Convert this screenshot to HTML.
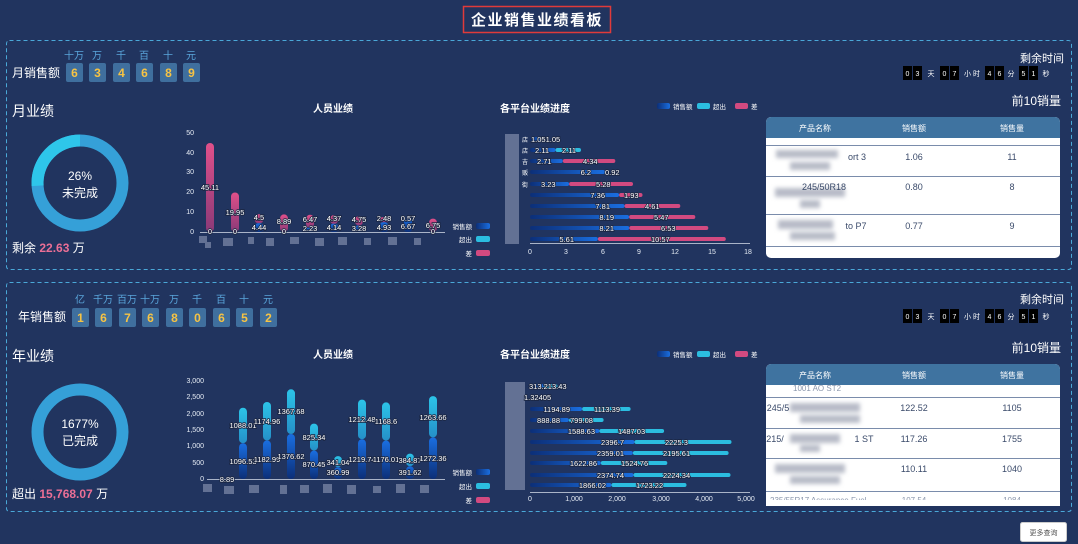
<!DOCTYPE html>
<html><head><meta charset="utf-8"><style>
html,body{margin:0;padding:0;background:#21345f;}
svg{display:block;font-family:"Liberation Sans","Noto Sans CJK SC",sans-serif;}
.l{font-size:7.5px;fill:#fff;stroke:#1a2540;stroke-width:1.6px;paint-order:stroke;}
.ax{font-size:7px;fill:#e6ecf5;}
.u{font-size:10px;fill:#5aa6dc;text-anchor:middle;}
.dg{font-size:12px;font-weight:bold;fill:#f6c344;text-anchor:middle;}
.cd{font-size:7px;fill:#fff;text-anchor:middle;}
.td{font-size:9px;fill:#3a4a6a;text-anchor:middle;}
.th{font-size:8px;fill:#fff;text-anchor:middle;}
</style></head><body>
<svg width="1078" height="544" viewBox="0 0 1078 544">
<defs>
<linearGradient id="gb" x1="0" x2="1"><stop offset="0" stop-color="#0c2f78"/><stop offset="1" stop-color="#1a6ee0"/></linearGradient>
<linearGradient id="gbv" x1="0" y1="1" x2="0" y2="0"><stop offset="0" stop-color="#0c2f78"/><stop offset="1" stop-color="#1a6ee0"/></linearGradient>
<linearGradient id="gc" x1="0" y1="1" x2="0" y2="0"><stop offset="0" stop-color="#2590c8"/><stop offset="1" stop-color="#2cc4e8"/></linearGradient>
<linearGradient id="gp" x1="0" y1="1" x2="0" y2="0"><stop offset="0" stop-color="#8a3a78"/><stop offset="1" stop-color="#e0508a"/></linearGradient>
<filter id="bl"><feGaussianBlur stdDeviation="2.2"/></filter>
</defs>
<rect width="1078" height="544" fill="#21345f"/>
<!-- title -->
<rect x="463.5" y="6.5" width="147" height="26" fill="none" stroke="#e03a3a" stroke-width="1.5"/>
<text x="537" y="25" font-size="15" font-weight="bold" fill="#fff" text-anchor="middle" letter-spacing="1.5">企业销售业绩看板</text>
<!-- panels -->
<rect x="6.5" y="40.5" width="1065" height="229" rx="3" fill="none" stroke="#4aa8d8" stroke-dasharray="4,3"/>
<rect x="6.5" y="282.5" width="1065" height="229" rx="3" fill="none" stroke="#4aa8d8" stroke-dasharray="4,3"/>

<!-- ===== TOP PANEL ===== -->
<text x="12" y="77" font-size="12" fill="#fff">月销售额</text>
<g>
<text class="u" x="74" y="59">十万</text><text class="u" x="97" y="59">万</text><text class="u" x="121" y="59">千</text><text class="u" x="144" y="59">百</text><text class="u" x="168" y="59">十</text><text class="u" x="191" y="59">元</text>
<rect x="66" y="63" width="17" height="19" rx="2" fill="#3f6f9e"/><rect x="89" y="63" width="17" height="19" rx="2" fill="#3f6f9e"/><rect x="113" y="63" width="17" height="19" rx="2" fill="#3f6f9e"/><rect x="136" y="63" width="17" height="19" rx="2" fill="#3f6f9e"/><rect x="160" y="63" width="17" height="19" rx="2" fill="#3f6f9e"/><rect x="183" y="63" width="17" height="19" rx="2" fill="#3f6f9e"/>
<text class="dg" x="74.5" y="77">6</text><text class="dg" x="97.5" y="77">3</text><text class="dg" x="121.5" y="77">4</text><text class="dg" x="144.5" y="77">6</text><text class="dg" x="168.5" y="77">8</text><text class="dg" x="191.5" y="77">9</text>
</g>
<text x="1064" y="62" font-size="11" fill="#fff" text-anchor="end">剩余时间</text>
<g id="cd1">
<rect x="903" y="66" width="9" height="14" fill="#000"/><rect x="913" y="66" width="9" height="14" fill="#000"/>
<text class="cd" x="907.5" y="76">0</text><text class="cd" x="917.5" y="76">3</text><text class="cd" x="931" y="76">天</text>
<rect x="940" y="66" width="9" height="14" fill="#000"/><rect x="950" y="66" width="9" height="14" fill="#000"/>
<text class="cd" x="944.5" y="76">0</text><text class="cd" x="954.5" y="76">7</text><text class="cd" x="972" y="76">小 时</text>
<rect x="985" y="66" width="9" height="14" fill="#000"/><rect x="995" y="66" width="9" height="14" fill="#000"/>
<text class="cd" x="989.5" y="76">4</text><text class="cd" x="999.5" y="76">6</text><text class="cd" x="1011" y="76">分</text>
<rect x="1019" y="66" width="9" height="14" fill="#000"/><rect x="1029" y="66" width="9" height="14" fill="#000"/>
<text class="cd" x="1023.5" y="76">5</text><text class="cd" x="1033.5" y="76">1</text><text class="cd" x="1046" y="76">秒</text>
</g>

<text x="12" y="116" font-size="14" fill="#fff">月业绩</text>
<circle cx="80" cy="183" r="42.5" fill="none" stroke="#35a0d8" stroke-width="12"/>
<path d="M80 140.5 A42.5 42.5 0 0 0 37.6 185.7" fill="none" stroke="#2ec6ea" stroke-width="12"/>
<text x="80" y="180" font-size="12" fill="#fff" text-anchor="middle">26%</text>
<text x="80" y="197" font-size="12" fill="#fff" text-anchor="middle">未完成</text>
<text x="12" y="252" font-size="12" fill="#fff">剩余 <tspan fill="#ec6f96" font-weight="bold">22.63</tspan> 万</text>

<!-- monthly person chart -->
<text x="333" y="112" font-size="10" font-weight="bold" fill="#fff" text-anchor="middle">人员业绩</text>
<g class="ax" text-anchor="end">
<text x="194" y="135">50</text><text x="194" y="155">40</text><text x="194" y="174">30</text><text x="194" y="194">20</text><text x="194" y="214">10</text><text x="194" y="234">0</text>
</g>
<line x1="200" y1="232.5" x2="445" y2="232.5" stroke="#aab4c8" stroke-width="1"/>
<g fill="url(#gp)">
<rect x="206" y="143" width="8" height="89" rx="4"/>
<rect x="231" y="192.5" width="8" height="39.5" rx="4"/>
<rect x="255" y="214.3" width="8" height="9" rx="3"/>
<rect x="280" y="214.4" width="8" height="17.6" rx="4"/>
<rect x="306" y="214.8" width="8" height="13" rx="4"/>
<rect x="330" y="215.1" width="8" height="9" rx="4"/>
<rect x="355" y="216.1" width="8" height="9.5" rx="4"/>
<rect x="380" y="217.3" width="8" height="5" rx="2"/>
<rect x="429" y="218.6" width="8" height="13.4" rx="4"/>
</g>
<g fill="url(#gbv)">
<rect x="255" y="223.2" width="8" height="8.8" rx="3"/>
<rect x="306" y="227.6" width="8" height="4.4" rx="2"/>
<rect x="330" y="223.8" width="8" height="8.2" rx="3"/>
<rect x="355" y="225.5" width="8" height="6.5" rx="3"/>
<rect x="380" y="222.2" width="8" height="9.8" rx="3"/>
<rect x="404" y="218.8" width="8" height="13.2" rx="3"/>
</g>
<g class="l" text-anchor="middle">
<text x="210" y="190">45.11</text><text x="210" y="234">0</text>
<text x="235" y="215">19.95</text><text x="235" y="234">0</text>
<text x="259" y="220">4.5</text><text x="259" y="230">4.44</text>
<text x="284" y="224">8.89</text><text x="284" y="234">0</text>
<text x="310" y="222">6.47</text><text x="310" y="231">2.23</text>
<text x="334" y="221">4.37</text><text x="334" y="230">4.14</text>
<text x="359" y="222">4.75</text><text x="359" y="231">3.28</text>
<text x="384" y="221">2.48</text><text x="384" y="230">4.93</text>
<text x="408" y="221">0.57</text><text x="408" y="229">6.67</text>
<text x="433" y="228">6.75</text><text x="433" y="234">0</text>
</g>
<g fill="#7a86a6" opacity="0.75">
<rect x="199" y="236" width="8" height="7"/><rect x="205" y="242" width="6" height="6"/><rect x="223" y="238" width="10" height="8"/><rect x="248" y="237" width="6" height="7"/><rect x="266" y="238" width="8" height="8"/><rect x="290" y="237" width="9" height="7"/><rect x="315" y="238" width="9" height="8"/><rect x="338" y="237" width="9" height="8"/><rect x="364" y="238" width="7" height="7"/><rect x="388" y="237" width="9" height="8"/><rect x="414" y="238" width="7" height="7"/>
</g>
<g font-size="6.5" fill="#fff" text-anchor="end">
<text x="472" y="229">销售额</text><text x="472" y="242">超出</text><text x="472" y="256">差</text>
</g>
<rect x="476" y="223" width="14" height="6" rx="2" fill="url(#gb)"/>
<rect x="476" y="236" width="14" height="6" rx="2" fill="#2bbde0"/>
<rect x="476" y="250" width="14" height="6" rx="2" fill="#d24a80"/>

<!-- monthly platform chart -->
<text x="500" y="112" font-size="10" font-weight="bold" fill="#fff">各平台业绩进度</text>
<rect x="657" y="103" width="13" height="6" rx="2" fill="url(#gb)"/><text x="673" y="109" font-size="6.5" fill="#fff">销售额</text>
<rect x="697" y="103" width="13" height="6" rx="2" fill="#2bbde0"/><text x="713" y="109" font-size="6.5" fill="#fff">超出</text>
<rect x="735" y="103" width="13" height="6" rx="2" fill="#d24a80"/><text x="751" y="109" font-size="6.5" fill="#fff">差</text>
<g fill="#7a86a6" opacity="0.75">
<rect x="505" y="134" width="14" height="110"/>
</g>
<line x1="530" y1="243.5" x2="750" y2="243.5" stroke="#aab4c8"/>
<g class="ax" text-anchor="middle">
<text x="530" y="254">0</text><text x="566" y="254">3</text><text x="603" y="254">6</text><text x="639" y="254">9</text><text x="675" y="254">12</text><text x="712" y="254">15</text><text x="748" y="254">18</text>
</g>
<g>
<rect x="530" y="137" width="12.7" height="4" rx="2" fill="url(#gb)"/>
<rect x="530" y="148" width="25.5" height="4" rx="2" fill="url(#gb)"/><rect x="555.5" y="148" width="25.5" height="4" rx="2" fill="#2bbde0"/>
<rect x="530" y="159" width="32.8" height="4" rx="2" fill="url(#gb)"/><rect x="562.8" y="159" width="52.5" height="4" rx="2" fill="#d24a80"/>
<rect x="530" y="170" width="75" height="4" rx="2" fill="url(#gb)"/>
<rect x="530" y="182" width="39.1" height="4" rx="2" fill="url(#gb)"/><rect x="569.1" y="182" width="63.9" height="4" rx="2" fill="#d24a80"/>
<rect x="530" y="193" width="89.1" height="4" rx="2" fill="url(#gb)"/><rect x="619.1" y="193" width="23.4" height="4" rx="2" fill="#d24a80"/>
<rect x="530" y="204" width="94.5" height="4" rx="2" fill="url(#gb)"/><rect x="624.5" y="204" width="55.8" height="4" rx="2" fill="#d24a80"/>
<rect x="530" y="215" width="99.1" height="4" rx="2" fill="url(#gb)"/><rect x="629.1" y="215" width="66.2" height="4" rx="2" fill="#d24a80"/>
<rect x="530" y="226" width="99.3" height="4" rx="2" fill="url(#gb)"/><rect x="629.3" y="226" width="79" height="4" rx="2" fill="#d24a80"/>
<rect x="530" y="237" width="67.9" height="4" rx="2" fill="url(#gb)"/><rect x="597.9" y="237" width="127.9" height="4" rx="2" fill="#d24a80"/>
</g>
<g class="l">
<text x="531" y="142">1.051.05</text>
<text x="535" y="153">2.11</text><text x="562" y="153">2.11</text>
<text x="537" y="164">2.71</text><text x="583" y="164">4.34</text>
<text x="591" y="175" text-anchor="end">6.2</text><text x="605" y="175">0.92</text>
<text x="541" y="187">3.23</text><text x="596" y="187">5.28</text>
<text x="605" y="198" text-anchor="end">7.36</text><text x="624" y="198">1.93</text>
<text x="610" y="209" text-anchor="end">7.81</text><text x="645" y="209">4.61</text>
<text x="614" y="220" text-anchor="end">8.19</text><text x="654" y="220">5.47</text>
<text x="614" y="231" text-anchor="end">8.21</text><text x="661" y="231">6.53</text>
<text x="574" y="242" text-anchor="end">5.61</text><text x="651" y="242">10.57</text>
</g>
<g font-size="6" fill="#fff" text-anchor="end"><text x="528" y="142">店</text><text x="528" y="153">店</text><text x="528" y="164">吉</text><text x="528" y="175">贩</text><text x="528" y="187">街</text></g>

<!-- top table -->
<text x="1061" y="105" font-size="12" fill="#fff" text-anchor="end">前10销量</text>
<rect x="766" y="117" width="294" height="141" rx="5" fill="#fff"/>
<path d="M766 138 V122 A5 5 0 0 1 771 117 H1055 A5 5 0 0 1 1060 122 V138 Z" fill="#3f73a0"/>
<text class="th" x="815" y="131">产品名称</text><text class="th" x="914" y="131">销售额</text><text class="th" x="1012" y="131">销售量</text>
<g stroke="#7a8cab" stroke-width="1"><line x1="766" y1="145.5" x2="1060" y2="145.5"/><line x1="766" y1="176.5" x2="1060" y2="176.5"/><line x1="766" y1="214.5" x2="1060" y2="214.5"/><line x1="766" y1="246.5" x2="1060" y2="246.5"/></g>
<g filter="url(#bl)" fill="#b8bcc8"><rect x="776" y="150" width="62" height="8"/><rect x="790" y="162" width="40" height="8"/><rect x="775" y="188" width="70" height="9"/><rect x="800" y="200" width="20" height="8"/><rect x="778" y="220" width="55" height="9"/><rect x="790" y="232" width="45" height="8"/></g>
<text class="td" x="857" y="160">ort 3</text><text class="td" x="914" y="160">1.06</text><text class="td" x="1012" y="160">11</text>
<text class="td" x="824" y="190">245/50R18</text><text class="td" x="914" y="190">0.80</text><text class="td" x="1012" y="190">8</text>
<text class="td" x="856" y="229">to P7</text><text class="td" x="914" y="229">0.77</text><text class="td" x="1012" y="229">9</text>

<!-- ===== BOTTOM PANEL ===== -->
<text x="18" y="321" font-size="12" fill="#fff">年销售额</text>
<g>
<text class="u" x="80" y="303">亿</text><text class="u" x="103" y="303">千万</text><text class="u" x="127" y="303">百万</text><text class="u" x="150" y="303">十万</text><text class="u" x="174" y="303">万</text><text class="u" x="197" y="303">千</text><text class="u" x="221" y="303">百</text><text class="u" x="244" y="303">十</text><text class="u" x="268" y="303">元</text>
<rect x="72" y="308" width="17" height="19" rx="2" fill="#3f6f9e"/><rect x="95" y="308" width="17" height="19" rx="2" fill="#3f6f9e"/><rect x="119" y="308" width="17" height="19" rx="2" fill="#3f6f9e"/><rect x="142" y="308" width="17" height="19" rx="2" fill="#3f6f9e"/><rect x="166" y="308" width="17" height="19" rx="2" fill="#3f6f9e"/><rect x="189" y="308" width="17" height="19" rx="2" fill="#3f6f9e"/><rect x="213" y="308" width="17" height="19" rx="2" fill="#3f6f9e"/><rect x="236" y="308" width="17" height="19" rx="2" fill="#3f6f9e"/><rect x="260" y="308" width="17" height="19" rx="2" fill="#3f6f9e"/>
<text class="dg" x="80.5" y="322">1</text><text class="dg" x="103.5" y="322">6</text><text class="dg" x="127.5" y="322">7</text><text class="dg" x="150.5" y="322">6</text><text class="dg" x="174.5" y="322">8</text><text class="dg" x="197.5" y="322">0</text><text class="dg" x="221.5" y="322">6</text><text class="dg" x="244.5" y="322">5</text><text class="dg" x="268.5" y="322">2</text>
</g>
<text x="1064" y="303" font-size="11" fill="#fff" text-anchor="end">剩余时间</text>
<use href="#cd1" transform="translate(0,243)"/>

<text x="12" y="361" font-size="14" fill="#fff">年业绩</text>
<circle cx="80" cy="432" r="42.5" fill="none" stroke="#35a0d8" stroke-width="12"/>
<text x="80" y="428" font-size="12" fill="#fff" text-anchor="middle">1677%</text>
<text x="80" y="445" font-size="12" fill="#fff" text-anchor="middle">已完成</text>
<text x="12" y="498" font-size="12" fill="#fff">超出 <tspan fill="#ec6f96" font-weight="bold">15,768.07</tspan> 万</text>

<!-- yearly person chart -->
<text x="333" y="358" font-size="10" font-weight="bold" fill="#fff" text-anchor="middle">人员业绩</text>
<g class="ax" text-anchor="end">
<text x="204" y="383">3,000</text><text x="204" y="399">2,500</text><text x="204" y="416">2,000</text><text x="204" y="432">1,500</text><text x="204" y="448">1,000</text><text x="204" y="465">500</text><text x="204" y="481">0</text>
</g>
<line x1="207" y1="479.5" x2="445" y2="479.5" stroke="#aab4c8"/>
<g fill="url(#gbv)">
<rect x="239" y="443.2" width="8" height="35.8" rx="4"/>
<rect x="263" y="440.4" width="8" height="38.6" rx="4"/>
<rect x="287" y="434" width="8" height="45" rx="4"/>
<rect x="310" y="450.6" width="8" height="28.4" rx="4"/>
<rect x="334" y="467.2" width="8" height="11.8" rx="4"/>
<rect x="358" y="439.2" width="8" height="39.8" rx="4"/>
<rect x="382" y="440.6" width="8" height="38.4" rx="4"/>
<rect x="406" y="466.2" width="8" height="12.8" rx="4"/>
<rect x="429" y="437.4" width="8" height="41.6" rx="4"/>
</g>
<g fill="url(#gc)">
<rect x="239" y="407.7" width="8" height="35.5" rx="4"/>
<rect x="263" y="402" width="8" height="38.4" rx="4"/>
<rect x="287" y="389.3" width="8" height="44.7" rx="4"/>
<rect x="310" y="423.6" width="8" height="27" rx="4"/>
<rect x="334" y="456.1" width="8" height="11.1" rx="4"/>
<rect x="358" y="399.6" width="8" height="39.6" rx="4"/>
<rect x="382" y="402.4" width="8" height="38.2" rx="4"/>
<rect x="406" y="453.6" width="8" height="12.6" rx="4"/>
<rect x="429" y="396.1" width="8" height="41.3" rx="4"/>
</g>
<g class="l" text-anchor="middle">
<text x="227" y="482">8.89</text>
<text x="243" y="464">1096.53</text><text x="243" y="428">1088.01</text>
<text x="267" y="462">1182.99</text><text x="267" y="424">1174.96</text>
<text x="291" y="459">1376.62</text><text x="291" y="414">1367.68</text>
<text x="314" y="467">870.45</text><text x="314" y="440">825.34</text>
<text x="338" y="475">360.99</text><text x="338" y="465">341.04</text>
<text x="362" y="462">1219.74</text><text x="362" y="422">1212.48</text>
<text x="386" y="462">1176.01</text><text x="386" y="424">1168.6</text>
<text x="410" y="475">391.62</text><text x="410" y="463">384.87</text>
<text x="433" y="461">1272.36</text><text x="433" y="420">1263.66</text>
</g>
<g fill="#7a86a6" opacity="0.75">
<rect x="203" y="484" width="9" height="8"/><rect x="224" y="486" width="10" height="8"/><rect x="249" y="485" width="10" height="8"/><rect x="280" y="485" width="7" height="9"/><rect x="300" y="485" width="9" height="8"/><rect x="323" y="484" width="9" height="9"/><rect x="347" y="485" width="9" height="9"/><rect x="373" y="486" width="8" height="7"/><rect x="396" y="484" width="9" height="9"/><rect x="420" y="485" width="9" height="8"/>
</g>
<g font-size="6.5" fill="#fff" text-anchor="end">
<text x="472" y="475">销售额</text><text x="472" y="489">超出</text><text x="472" y="503">差</text>
</g>
<rect x="476" y="469" width="14" height="6" rx="2" fill="url(#gb)"/>
<rect x="476" y="483" width="14" height="6" rx="2" fill="#2bbde0"/>
<rect x="476" y="497" width="14" height="6" rx="2" fill="#d24a80"/>

<!-- yearly platform chart -->
<text x="500" y="358" font-size="10" font-weight="bold" fill="#fff">各平台业绩进度</text>
<rect x="657" y="351" width="13" height="6" rx="2" fill="url(#gb)"/><text x="673" y="357" font-size="6.5" fill="#fff">销售额</text>
<rect x="697" y="351" width="13" height="6" rx="2" fill="#2bbde0"/><text x="713" y="357" font-size="6.5" fill="#fff">超出</text>
<rect x="735" y="351" width="13" height="6" rx="2" fill="#d24a80"/><text x="751" y="357" font-size="6.5" fill="#fff">差</text>
<g fill="#7a86a6" opacity="0.75"><rect x="505" y="382" width="20" height="108"/></g>
<line x1="530" y1="492.5" x2="750" y2="492.5" stroke="#aab4c8"/>
<g class="ax" text-anchor="middle">
<text x="530" y="501">0</text><text x="574" y="501">1,000</text><text x="617" y="501">2,000</text><text x="661" y="501">3,000</text><text x="704" y="501">4,000</text><text x="746" y="501">5,000</text>
</g>
<g>
<rect x="530" y="384" width="13.7" height="4" rx="2" fill="url(#gb)"/><rect x="543.7" y="384" width="13.7" height="4" rx="2" fill="#2bbde0"/>
<rect x="530" y="407" width="52.1" height="4" rx="2" fill="url(#gb)"/><rect x="582.1" y="407" width="48.5" height="4" rx="2" fill="#2bbde0"/>
<rect x="530" y="418" width="38.8" height="4" rx="2" fill="url(#gb)"/><rect x="568.8" y="418" width="34.8" height="4" rx="2" fill="#2bbde0"/>
<rect x="530" y="429" width="69.3" height="4" rx="2" fill="url(#gb)"/><rect x="599.3" y="429" width="64.8" height="4" rx="2" fill="#2bbde0"/>
<rect x="530" y="440" width="104.5" height="4" rx="2" fill="url(#gb)"/><rect x="634.5" y="440" width="97" height="4" rx="2" fill="#2bbde0"/>
<rect x="530" y="451" width="102.9" height="4" rx="2" fill="url(#gb)"/><rect x="632.9" y="451" width="95.7" height="4" rx="2" fill="#2bbde0"/>
<rect x="530" y="461" width="70.8" height="4" rx="2" fill="url(#gb)"/><rect x="600.8" y="461" width="66.5" height="4" rx="2" fill="#2bbde0"/>
<rect x="530" y="473" width="103.5" height="4" rx="2" fill="url(#gb)"/><rect x="633.5" y="473" width="97" height="4" rx="2" fill="#2bbde0"/>
<rect x="530" y="483" width="81.4" height="4" rx="2" fill="url(#gb)"/><rect x="611.4" y="483" width="75.1" height="4" rx="2" fill="#2bbde0"/>
</g>
<g class="l">
<text x="529" y="389">313.213.43</text>
<text x="524" y="400">1.32405</text>
<text x="570" y="412" text-anchor="end">1194.89</text><text x="594" y="412">1113.39</text>
<text x="560" y="423" text-anchor="end">888.88</text><text x="570" y="423">799.08</text>
<text x="595" y="434" text-anchor="end">1588.63</text><text x="618" y="434">1487.03</text>
<text x="624" y="445" text-anchor="end">2396.7</text><text x="665" y="445">2225.3</text>
<text x="624" y="456" text-anchor="end">2359.01</text><text x="663" y="456">2195.61</text>
<text x="597" y="466" text-anchor="end">1622.86</text><text x="621" y="466">1524.76</text>
<text x="624" y="478" text-anchor="end">2374.74</text><text x="663" y="478">2224.34</text>
<text x="606" y="488" text-anchor="end">1866.02</text><text x="636" y="488">1723.22</text>
</g>

<!-- bottom table -->
<text x="1061" y="352" font-size="12" fill="#fff" text-anchor="end">前10销量</text>
<rect x="766" y="364" width="294" height="142" rx="5" fill="#fff"/>
<path d="M766 385 V369 A5 5 0 0 1 771 364 H1055 A5 5 0 0 1 1060 369 V385 Z" fill="#3f73a0"/>
<text class="th" x="815" y="378">产品名称</text><text class="th" x="914" y="378">销售额</text><text class="th" x="1012" y="378">销售量</text>
<text x="793" y="391" font-size="8" fill="#8a96ac">1001 AO ST2</text>
<g stroke="#7a8cab"><line x1="766" y1="397.5" x2="1060" y2="397.5"/><line x1="766" y1="428.5" x2="1060" y2="428.5"/><line x1="766" y1="458.5" x2="1060" y2="458.5"/><line x1="766" y1="491.5" x2="1060" y2="491.5"/></g>
<g filter="url(#bl)" fill="#b8bcc8"><rect x="790" y="403" width="70" height="9"/><rect x="800" y="415" width="60" height="8"/><rect x="790" y="434" width="50" height="9"/><rect x="800" y="445" width="20" height="7"/><rect x="775" y="464" width="70" height="9"/><rect x="790" y="476" width="50" height="8"/></g>
<text class="td" x="778" y="411" text-anchor="start">245/5</text><text class="td" x="914" y="411">122.52</text><text class="td" x="1012" y="411">1105</text>
<text class="td" x="775" y="442" text-anchor="start">215/</text><text class="td" x="864" y="442">1 ST</text><text class="td" x="914" y="442">117.26</text><text class="td" x="1012" y="442">1755</text>
<text class="td" x="914" y="472">110.11</text><text class="td" x="1012" y="472">1040</text>
<text x="770" y="503" font-size="8" fill="#8a96ac">235/55R17 Assurance Fuel</text><text x="914" y="503" font-size="8" fill="#8a96ac" text-anchor="middle">107.54</text><text x="1012" y="503" font-size="8" fill="#8a96ac" text-anchor="middle">1084</text>
<rect x="766" y="500" width="294" height="6" fill="#fff"/>

<!-- button -->
<rect x="1020.5" y="522.5" width="46" height="19" rx="2" fill="#fff" stroke="#ccc"/>
<text x="1043.5" y="535" font-size="7" fill="#555" text-anchor="middle">更多查询</text>
</svg>
</body></html>
